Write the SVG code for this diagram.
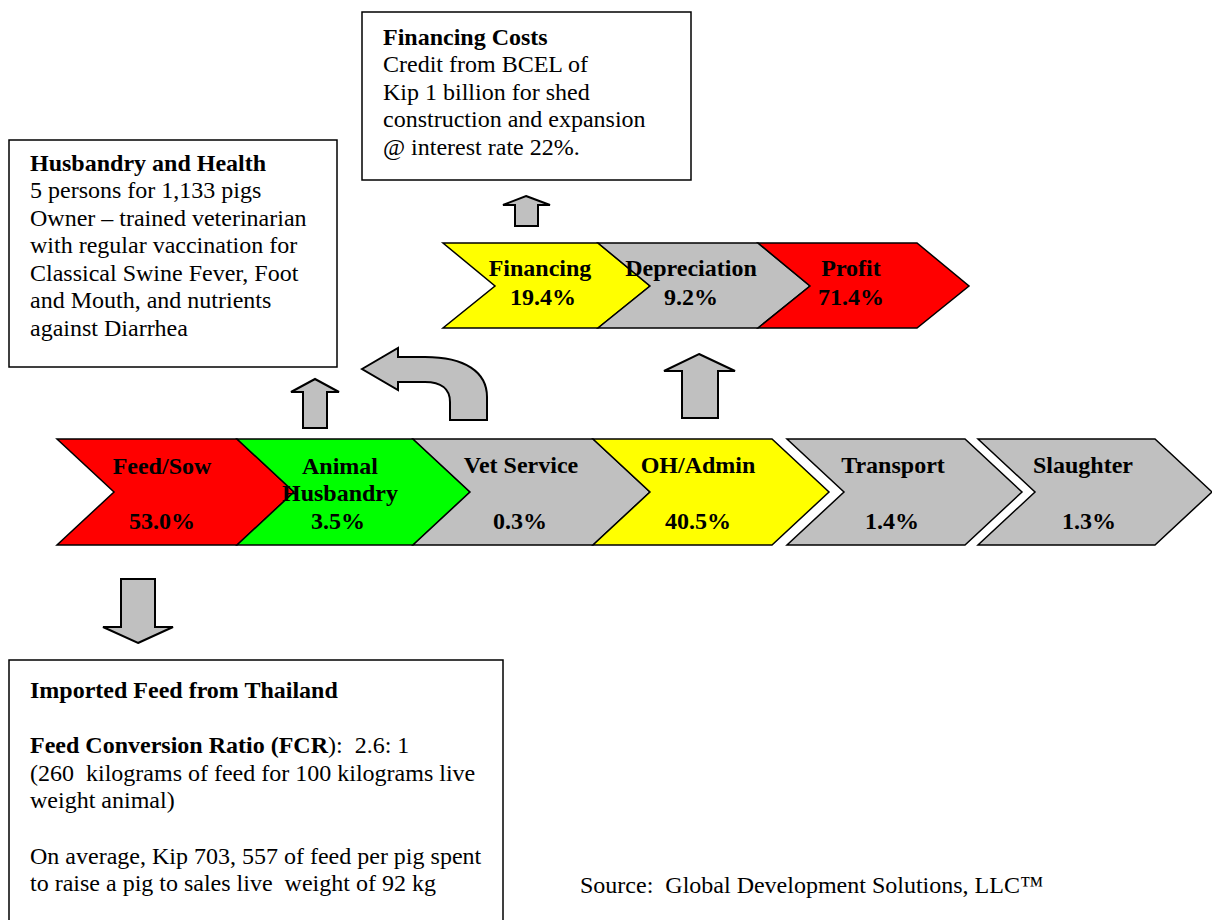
<svg xmlns="http://www.w3.org/2000/svg" width="1212" height="920" viewBox="0 0 1212 920">
  <style>
    text { font-family: "Liberation Serif", "Times New Roman", serif; font-size: 24px; fill: #000; white-space: pre; }
    .b { font-weight: bold; }
    .c { text-anchor: middle; font-weight: bold; }
    .box { fill: #fff; stroke: #000; stroke-width: 1.5; }
    .chev { stroke: #000; stroke-width: 1.5; stroke-linejoin: miter; }
    .red { fill: #ff0000; }
    .green { fill: #00ff00; }
    .gray { fill: #c0c0c0; }
    .yellow { fill: #ffff00; }
    .arrow { fill: #c0c0c0; stroke: #000; stroke-width: 2; stroke-linejoin: miter; }
  </style>

  <rect width="1212" height="920" fill="#fff"/>

  <!-- info boxes -->
  <g id="financing-costs">
    <rect class="box" x="362" y="12" width="329" height="168"/>
    <text class="b" x="383" y="45">Financing Costs</text>
    <text x="383" y="72">Credit from BCEL of</text>
    <text x="383" y="100">Kip 1 billion for shed</text>
    <text x="383" y="127">construction and expansion</text>
    <text x="383" y="155">@ interest rate 22%.</text>
  </g>

  <g id="husbandry-health">
    <rect class="box" x="9" y="140" width="328" height="227"/>
    <text class="b" x="30" y="171">Husbandry and Health</text>
    <text x="30" y="198">5 persons for 1,133 pigs</text>
    <text x="30" y="226">Owner – trained veterinarian</text>
    <text x="30" y="253">with regular vaccination for</text>
    <text x="30" y="281">Classical Swine Fever, Foot</text>
    <text x="30" y="308">and Mouth, and nutrients</text>
    <text x="30" y="336">against Diarrhea</text>
  </g>

  <g id="imported-feed">
    <rect class="box" x="9" y="660" width="494" height="265"/>
    <text class="b" x="30" y="698">Imported Feed from Thailand</text>
    <text x="30" y="753"><tspan class="b">Feed Conversion Ratio (FCR</tspan>):  2.6: 1</text>
    <text x="30" y="781">(260  kilograms of feed for 100 kilograms live</text>
    <text x="30" y="808">weight animal)</text>
    <text x="30" y="864">On average, Kip 703, 557 of feed per pig spent</text>
    <text x="30" y="891">to raise a pig to sales live  weight of 92 kg</text>
  </g>

  <!-- upper chevron row -->
  <g id="financing">
    <polygon class="chev yellow" points="443,243 598,243 650,286 598,328 443,328 495,286"/>
  </g>
  <g id="depreciation">
    <polygon class="chev gray" points="598,243 758,243 810,286 758,328 598,328 650,286"/>
  </g>
  <g id="profit">
    <polygon class="chev red" points="758,243 917,243 969,286 917,328 758,328 810,286"/>
  </g>

  <!-- lower chevron row -->
  <g id="feed-sow">
    <polygon class="chev red" points="57,439 237,439 294,492 237,545 57,545 114,492"/>
  </g>
  <g id="animal-husbandry">
    <polygon class="chev green" points="237,439 413,439 470,492 413,545 237,545 294,492"/>
  </g>
  <g id="vet-service">
    <polygon class="chev gray" points="413,439 593,439 650,492 593,545 413,545 470,492"/>
  </g>
  <g id="oh-admin">
    <polygon class="chev yellow" points="593,439 772,439 829,492 772,545 593,545 650,492"/>
  </g>
  <g id="transport">
    <polygon class="chev gray" points="787,439 965,439 1022,492 965,545 787,545 844,492"/>
  </g>
  <g id="slaughter">
    <polygon class="chev gray" points="978,439 1155,439 1212,492 1155,545 978,545 1035,492"/>
  </g>

  <!-- chevron labels -->
  <g id="chevron-labels">
    <text class="c" x="540" y="276">Financing</text>
    <text class="c" x="543" y="305">19.4%</text>
    <text class="c" x="691" y="276">Depreciation</text>
    <text class="c" x="691" y="305">9.2%</text>
    <text class="c" x="851" y="276">Profit</text>
    <text class="c" x="851" y="305">71.4%</text>

    <text class="c" x="162" y="474">Feed/Sow</text>
    <text class="c" x="162" y="529">53.0%</text>
    <text class="c" x="340" y="474">Animal</text>
    <text class="c" x="340" y="501">Husbandry</text>
    <text class="c" x="338" y="529">3.5%</text>
    <text class="c" x="521" y="473">Vet Service</text>
    <text class="c" x="520" y="529">0.3%</text>
    <text class="c" x="698" y="473">OH/Admin</text>
    <text class="c" x="698" y="529">40.5%</text>
    <text class="c" x="893" y="473">Transport</text>
    <text class="c" x="892" y="529">1.4%</text>
    <text class="c" x="1083" y="473">Slaughter</text>
    <text class="c" x="1089" y="529">1.3%</text>
  </g>

  <!-- block arrows -->
  <g id="connectors">
    <polygon class="arrow" points="526,196 550,205 538,205 538,226 515,226 515,205 503,205"/>
    <polygon class="arrow" points="315,379 339,392 327,392 327,428 303,428 303,392 291,392"/>
    <path class="arrow" d="M362,369 L398,348 L398,357 L425,357 C465,357 487,372 487,397 L487,420 L450,420 L450,402 C450,389 441,382 425,382 L398,382 L398,390 Z"/>
    <polygon class="arrow" points="699,354 735,371 718,371 718,418 682,418 682,371 664,371"/>
    <polygon class="arrow" points="138,643 173,627 155,627 155,579 121,579 121,627 103,627"/>
  </g>

  <text x="580" y="893">Source:  Global Development Solutions, LLC™</text>
</svg>
